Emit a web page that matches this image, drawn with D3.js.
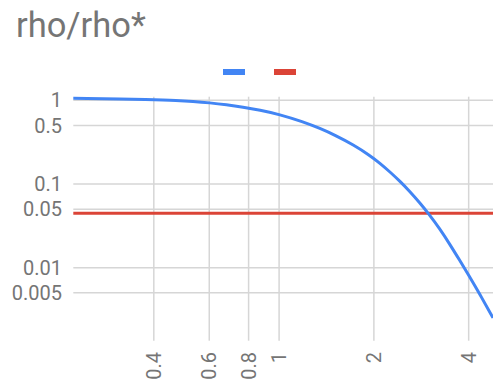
<!DOCTYPE html>
<html><head><meta charset="utf-8">
<script src="https://cdn.jsdelivr.net/npm/d3@7"></script>
<style>body{margin:0;background:#fff}svg{display:block;font-family:Roboto,sans-serif}</style>
</head><body><svg id="c" width="493" height="382"></svg>
<script>
const title = "rho/rho*";
const machValues = [0.222, 0.405, 0.472, 0.533, 0.602, 0.680, 0.768, 0.868, 1.0, 1.192, 1.347, 1.522, 1.719, 1.942, 2.090, 2.249, 2.420, 2.603, 2.800, 2.976, 3.242, 3.488, 3.753, 3.988, 4.345, 4.779];
const rhoValues  = [1.057, 1.0195, 0.9973, 0.9703, 0.9335, 0.8857, 0.8294, 0.7637, 0.680, 0.5535, 0.4628, 0.3755, 0.2948, 0.2196, 0.1772, 0.1395, 0.1077, 0.0811, 0.0593, 0.0447, 0.0290, 0.01893, 0.01209, 0.00829, 0.00478, 0.00251];
const refValue = 0.0447;
const xTicks = [0.4, 0.6, 0.8, 1, 2, 4];
const xTickLabels = ["0.4", "0.6", "0.8", "1", "2", "4"];
const yTicks = [1, 0.5, 0.1, 0.05, 0.01, 0.005];
const yTickLabels = ["1", "0.5", "0.1", "0.05", "0.01", "0.005"];
const seriesColors = ["#4285F4", "#DB4437"];

(function () {
const svg = d3.select("#c");
const pl = 73.3, pr = 493, pt = 96.7, pb = 340.7;
const x = d3.scaleLog().domain([0.222, 4.779]).range([pl, pr]);
const y = d3.scaleLog().domain([1.104, 0.00134]).range([pt, pb]);

svg.append("text").attr("x", 16).attr("y", 37).attr("fill", "#757575")
  .attr("font-size", 34.5).text(title);

svg.append("rect").attr("x", 223).attr("y", 69).attr("width", 22).attr("height", 6).attr("fill", seriesColors[0]);
svg.append("rect").attr("x", 274).attr("y", 69).attr("width", 22).attr("height", 6).attr("fill", seriesColors[1]);

const g = svg.append("g");
g.selectAll(".hg").data(yTicks).join("line")
  .attr("x1", pl).attr("x2", pr).attr("y1", d => y(d)).attr("y2", d => y(d))
  .attr("stroke", "#d6d6d6").attr("stroke-width", 1.5);
g.selectAll(".vg").data(xTicks).join("line")
  .attr("y1", pt).attr("y2", pb).attr("x1", d => x(d)).attr("x2", d => x(d))
  .attr("stroke", "#d6d6d6").attr("stroke-width", 1.5);

svg.selectAll(".yl").data(yTicks).join("text")
  .attr("x", 62).attr("y", d => y(d)).attr("text-anchor", "end").attr("dy", "0.36em")
  .attr("fill", "#757575").attr("font-size", 20).text((d, i) => yTickLabels[i]);
svg.selectAll(".xl").data(xTicks).join("text")
  .attr("transform", d => `translate(${x(d)},352) rotate(-90)`)
  .attr("text-anchor", "end").attr("dy", "0.36em")
  .attr("fill", "#757575").attr("font-size", 20).text((d, i) => xTickLabels[i]);

g.append("line").attr("x1", pl).attr("x2", pr).attr("y1", y(refValue)).attr("y2", y(refValue))
  .attr("stroke", seriesColors[1]).attr("stroke-width", 3);

const pts = machValues.map((m, i) => [m, rhoValues[i]]);
g.append("path").datum(pts)
  .attr("d", d3.line().x(d => x(d[0])).y(d => y(d[1])).curve(d3.curveBasis))
  .attr("fill", "none").attr("stroke", seriesColors[0]).attr("stroke-width", 3);
})();
</script></body></html>
